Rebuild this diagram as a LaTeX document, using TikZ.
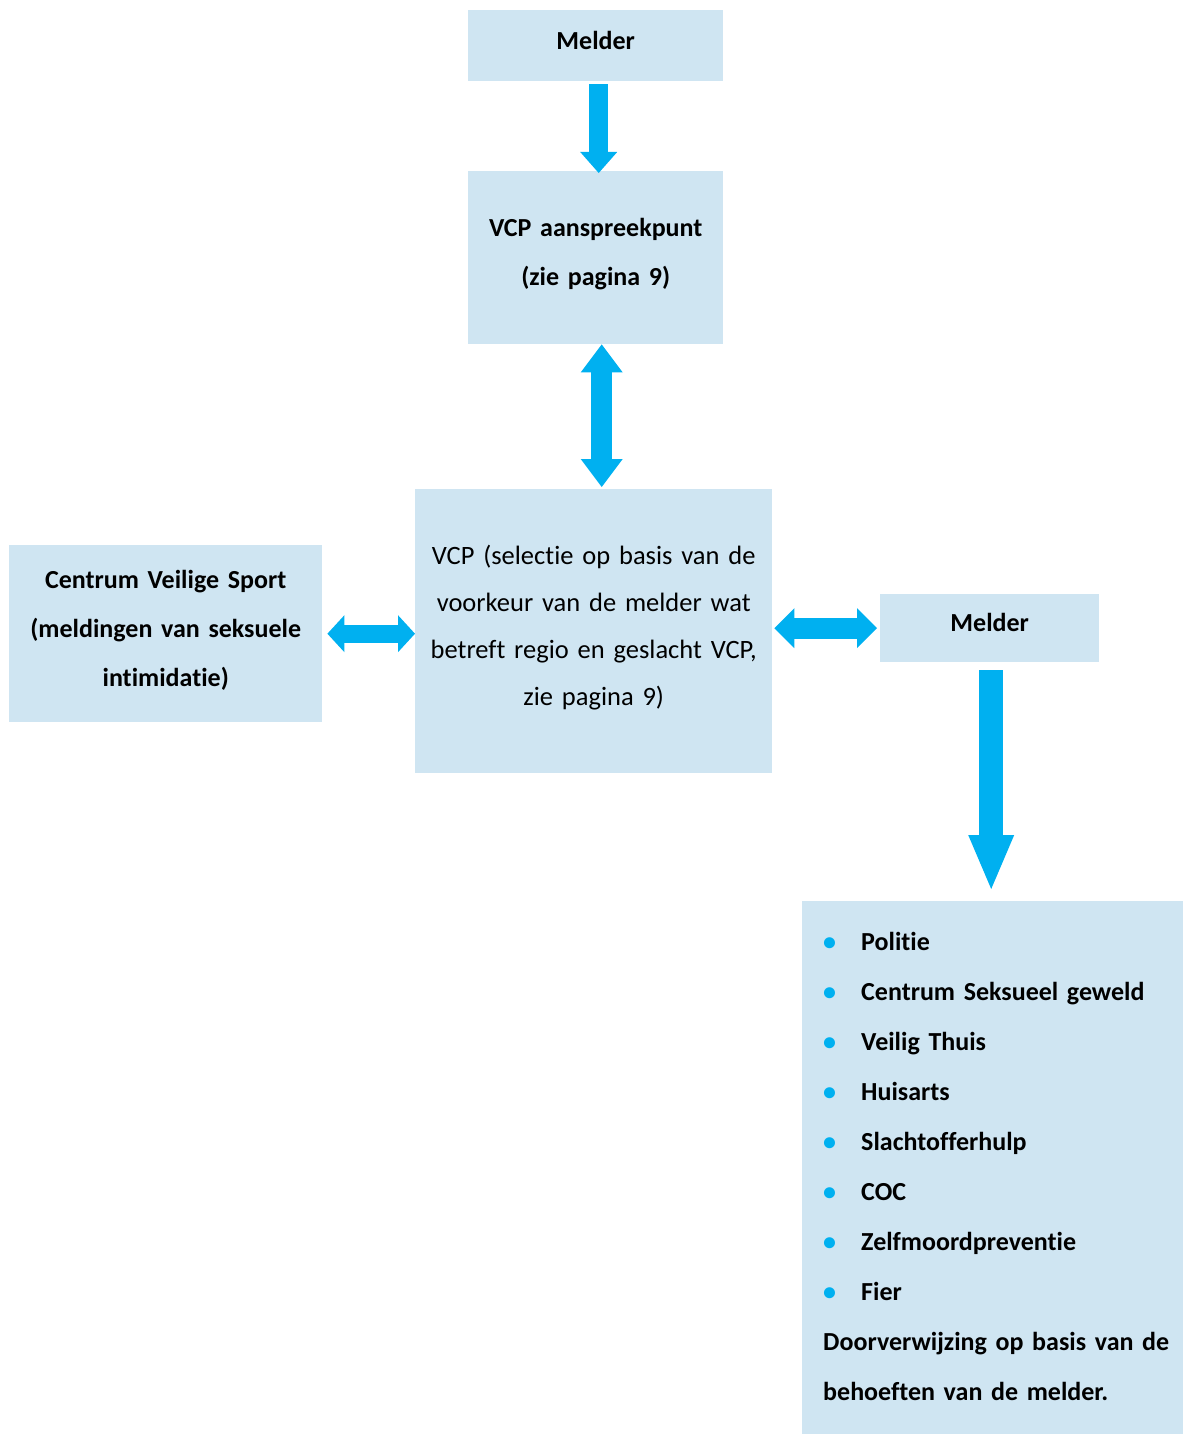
\documentclass[tikz,border=0pt]{standalone}
\usepackage{fontspec}
\setmainfont{Carlito}[Ligatures={NoCommon}]
\usetikzlibrary{arrows.meta}

\definecolor{vakblauw}{RGB}{207,229,242}
\definecolor{pijlblauw}{RGB}{0,176,240}

\tikzset{
  vak/.style={fill=vakblauw, anchor=north west, inner sep=0pt, align=center,
    font=\bfseries\fontsize{26}{49}\selectfont,
    execute at begin node={\rule{0pt}{22pt}},
    execute at end node={\rule[-15pt]{0pt}{0pt}}},
  pijl/.style n args={3}{draw=pijlblauw, line width=#1,
    -{Triangle[width=#2, length=#3, line width=0pt]}},
  dubbelpijl/.style n args={3}{draw=pijlblauw, line width=#1,
    {Triangle[width=#2, length=#3, line width=0pt]}-{Triangle[width=#2, length=#3, line width=0pt]}},
}
\newcommand{\punt}{\makebox[38pt][l]{\textcolor{pijlblauw}{\textbullet}}}

\begin{document}
\begin{tikzpicture}[x=1pt, y=-1pt]
  \useasboundingbox (0,0) rectangle (1187,1434);

  \node[vak, minimum width=255pt, minimum height=71pt, text width=240pt] (melder) at (468,10) {Melder};
  \node[vak, minimum width=255pt, minimum height=173pt, text width=240pt] (aanspreekpunt) at (468,171)
    {VCP aanspreekpunt\\(zie pagina 9)};
  \node[vak, minimum width=357pt, minimum height=284pt, text width=345pt,
    font=\mdseries\fontsize{26.5}{47}\selectfont] (vcp) at (415,489)
    {VCP (selectie op basis van de\\voorkeur van de melder wat\\betreft regio en geslacht VCP,\\zie pagina 9)};
  \node[vak, minimum width=313pt, minimum height=177pt, text width=300pt] (cvs) at (9,545)
    {Centrum Veilige Sport\\(meldingen van seksuele\\intimidatie)};
  \node[vak, minimum width=219pt, minimum height=68pt, text width=200pt] (melderrechts) at (880,594) {Melder};
  \node[vak, minimum width=381pt, minimum height=533pt, text width=339pt, inner xsep=21pt, align=left,
    font=\bfseries\fontsize{26}{50}\selectfont,
    execute at begin node={\rule{0pt}{30pt}},
    execute at end node={\rule[-6pt]{0pt}{0pt}}] (hulp) at (802,901)
    {\punt Politie\\
     \punt Centrum Seksueel geweld\\
     \punt Veilig Thuis\\
     \punt Huisarts\\
     \punt Slachtofferhulp\\
     \punt COC\\
     \punt Zelfmoordpreventie\\
     \punt Fier\\
     \mbox{Doorverwijzing op basis van de}\\behoeften van de melder.};

  % pijlen
  \draw[pijl={19pt}{37pt}{21pt}, shorten <=3pt, shorten >=-2pt]
    ([xshift=3pt]melder.south) -- ([xshift=3pt]melder.south |- aanspreekpunt.north);
  \draw[dubbelpijl={21pt}{42pt}{28pt}, shorten >=2pt]
    ([xshift=6pt]aanspreekpunt.south) -- ([xshift=6pt]aanspreekpunt.south |- vcp.north);
  \draw[dubbelpijl={18pt}{37pt}{17pt}, shorten <=5pt]
    (cvs.east) -- (cvs.east -| vcp.west);
  \draw[dubbelpijl={21pt}{40pt}{20pt}, shorten <=2pt, shorten >=3pt]
    (melderrechts.west -| vcp.east) -- (melderrechts.west);
  \draw[pijl={24pt}{46pt}{54pt}, shorten <=8pt, shorten >=12pt]
    ([xshift=1.5pt]melderrechts.south) -- ([xshift=1.5pt]melderrechts.south |- hulp.north);
\end{tikzpicture}
\end{document}
